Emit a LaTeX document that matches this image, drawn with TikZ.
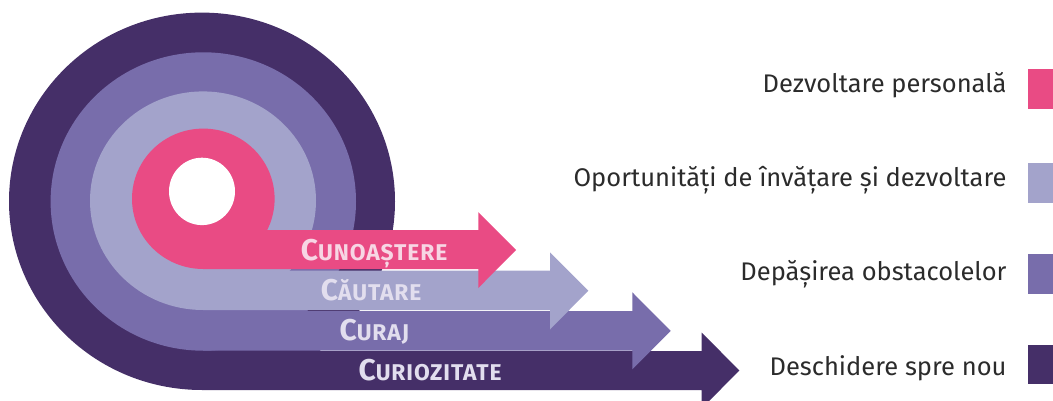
\documentclass[tikz,border=0pt]{standalone}
\usepackage{fontspec}
\setmainfont{Fira Sans}
\newfontfamily\bandfont{Fira Sans}[LetterSpace=4]
\definecolor{cpink}{RGB}{233,75,132}
\definecolor{clight}{RGB}{163,163,203}
\definecolor{cmed}{RGB}{120,109,171}
\definecolor{cdark}{RGB}{69,47,104}
\definecolor{ctxt}{RGB}{43,43,43}
\definecolor{cpinktxt}{RGB}{247,214,228}
\definecolor{cbandtxt}{RGB}{226,222,238}
\newcommand\fsc[2]{{\fontsize{30}{30}\selectfont #1}{\fontsize{22.8}{22.8}\selectfont #2}}
\tikzset{
  bandtxt/.style={anchor=base west, inner sep=0pt, font=\bandfont\bfseries, text=cbandtxt},
  legtxt/.style={anchor=base east, inner sep=0pt, font=\fontsize{25.5}{30}\selectfont, text=ctxt},
}
\begin{document}
\begin{tikzpicture}[x=1pt,y=-1pt]
\useasboundingbox (0,0) rectangle (1053,401);
% dark layer
\fill[cdark] (202,201.3) ellipse [x radius=193, y radius=188.7];
\fill[cdark] (202,351) -- (701.7,351) -- (701.7,332.5) -- (739.3,370.5) -- (701.7,408.5) -- (701.7,390) -- (202,390) -- cycle;
% medium layer
\fill[cmed] (203.3,201.5) ellipse [x radius=152.7, y radius=149.2];
\fill[cmed] (203,311) -- (632.3,311) -- (632.3,292.3) -- (670.7,330.8) -- (632.3,369.3) -- (632.3,350.7) -- (203,350.7) -- cycle;
% light layer
\fill[clight] (203,200.7) ellipse [x radius=113, y radius=109.3];
\fill[clight] (203,270.5) -- (550,270.5) -- (550,252.3) -- (588.3,290.7) -- (550,329.5) -- (550,310) -- (203,310) -- cycle;
% pink layer
\fill[cpink] (203.3,198.8) ellipse [x radius=71.3, y radius=70.2];
\fill[cpink] (203,230) -- (478.3,230) -- (478.3,212.2) -- (516,250) -- (478.3,288) -- (478.3,269) -- (203,269) -- cycle;
% hole
\fill[white] (202,191.4) ellipse [x radius=33, y radius=33.7];
% band labels
\node[bandtxt, text=cpinktxt] (t1) at (300.7,260) {\fsc{C}{UNOAȘTERE}};
\node[bandtxt] (t2) at (320.7,300.7) {\fsc{C}{ĂUTARE}};
\node[bandtxt] (t3) at (339.3,340) {\fsc{C}{URAJ}};
\node[bandtxt] (t4) at (358.3,380) {\fsc{C}{URIOZITATE}};
% legend
\node[legtxt] (l1) at (1006.7,92.7) {Dezvoltare personală};
\node[legtxt] (l2) at (1006.7,186.7) {Oportunități de învățare și dezvoltare};
\node[legtxt] (l3) at (1006.7,280.7) {Depășirea obstacolelor};
\node[legtxt] (l4) at (1006.7,375) {Deschidere spre nou};
\fill[cpink] (1028,69.3) rectangle (1053,108.7);
\fill[clight] (1028,163.3) rectangle (1053,202.7);
\fill[cmed] (1028,254) rectangle (1053,293.7);
\fill[cdark] (1028,345) rectangle (1053,384.3);
\end{tikzpicture}
\end{document}
